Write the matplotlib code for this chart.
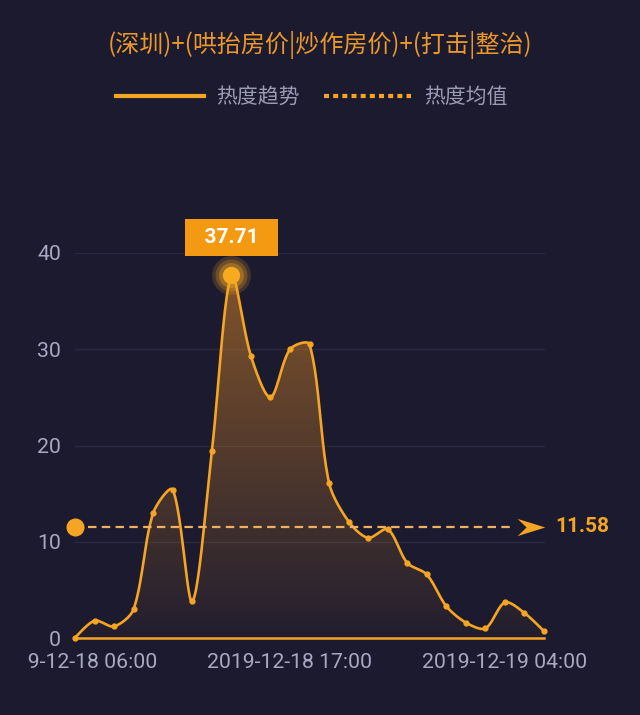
import numpy as np
import pandas as pd
import matplotlib
matplotlib.use("Agg")
import matplotlib.pyplot as plt
from matplotlib.lines import Line2D
from matplotlib.patches import Polygon
from matplotlib.path import Path
from matplotlib.colors import LinearSegmentedColormap
from matplotlib.transforms import Bbox, TransformedBbox

# hourly heat index, 2019-12-18 06:00 .. 2019-12-19 06:00
hours = pd.date_range("2019-12-18 06:00", periods=25, freq="h").strftime("%Y-%m-%d %H:%M").tolist()
heat = [0.0, 1.8, 1.2, 3.0, 13.0, 15.4, 3.8, 19.4, 37.71, 29.3, 25.0, 30.0, 30.5,
        16.1, 12.1, 10.4, 11.3, 7.8, 6.6, 3.3, 1.6, 1.0, 3.7, 2.6, 0.7]
mean_value = 11.58
tick_idx = [0, 11, 22]
yticks = [0, 10, 20, 30, 40]

title = "(深圳)+(哄抬房价|炒作房价)+(打击|整治)"
legend_names = ["热度趋势", "热度均值"]

bg = "#1c1a2f"
orange = "#f5a524"
grid_c = "#2a2940"
tick_c = "#a9a8c2"
legend_c = "#9c9bb6"
cjk = ["Noto Sans CJK SC", "DejaVu Sans"]
num = ["Roboto", "DejaVu Sans"]


def smooth_curve(xs, ys, sx, sy, smooth=0.3, n=24):
    # bezier smoothing through the points, done in pixel-like space
    P = np.column_stack([np.asarray(xs, float) * sx, np.asarray(ys, float) * sy])
    m = len(P)
    cps = []
    for i in range(m):
        if i == 0 or i == m - 1:
            cps.append((P[i], P[i]))
            continue
        prev, cur, nxt = P[i - 1], P[i], P[i + 1]
        v = (nxt - prev) * smooth
        d0 = np.linalg.norm(cur - prev)
        d1 = np.linalg.norm(nxt - cur)
        cps.append((cur - v * d0 / (d0 + d1), cur + v * d1 / (d0 + d1)))
    out = []
    for i in range(m - 1):
        p0, p3 = P[i], P[i + 1]
        c1, c2 = cps[i][1], cps[i + 1][0]
        t = np.linspace(0, 1, n, endpoint=(i == m - 2))[:, None]
        seg = ((1 - t) ** 3) * p0 + 3 * ((1 - t) ** 2) * t * c1 + 3 * (1 - t) * t ** 2 * c2 + t ** 3 * p3
        out.append(seg)
    out = np.vstack(out)
    return out[:, 0] / sx, out[:, 1] / sy


fig = plt.figure(figsize=(6.4, 7.15), dpi=100, facecolor=bg)
px_x = 469 / 24.0
ax = fig.add_axes([68 / 640, 77 / 715, (24.72 * px_x) / 640, 385 / 715])
ax.set_facecolor(bg)
for s in ax.spines.values():
    s.set_visible(False)

x = np.arange(len(heat))
# grid
for yv in yticks[1:]:
    ax.plot([0, 24], [yv, yv], color=grid_c, lw=1, zorder=1)

sx, sy = px_x, 385 / 40.0
cx, cy = smooth_curve(x, heat, sx, sy)

# gradient fill under the curve
poly_xy = np.column_stack([np.r_[cx, cx[-1], cx[0]], np.r_[cy, 0, 0]])
clip = Polygon(poly_xy, closed=True, transform=ax.transData, facecolor="none", edgecolor="none")
ax.add_patch(clip)
cmap = LinearSegmentedColormap.from_list("g", [(0.96, 0.62, 0.15, 0.03), (0.96, 0.58, 0.15, 0.47)])
grad = np.linspace(0, 1, 256).reshape(-1, 1)
im = ax.imshow(grad, cmap=cmap, origin="lower", aspect="auto",
               extent=[0, 24, 0, max(heat)], zorder=2, interpolation="bicubic")
im.set_clip_path(clip)
ax.set_xlim(-0.36, 24.36)
ax.set_ylim(0, 40)

ax.plot([0, 24], [0, 0], color=orange, lw=1.8, zorder=3, clip_on=False)
ax.plot(cx, cy, color=orange, lw=1.9, zorder=4, clip_on=False, solid_capstyle="round")
ax.plot(x, heat, "o", color=orange, ms=3.5, zorder=5, clip_on=False)

# peak marker + glow + label
ip = int(np.argmax(heat))
for ms, a in [(28, 0.18), (23, 0.25), (18, 0.35)]:
    ax.plot(ip, heat[ip], "o", color=orange, ms=ms, alpha=a, mec="none", zorder=6, clip_on=False)
ax.plot(ip, heat[ip], "o", color="#f7aa1e", ms=12.5, mec="none", zorder=7, clip_on=False)
ax.annotate(f"  {heat[ip]:.2f}  ", (ip, heat[ip]), xytext=(0, 27), textcoords="offset points",
            ha="center", va="center", color="white", fontsize=15, fontweight="bold",
            family=num, zorder=8, annotation_clip=False,
            bbox=dict(boxstyle="square,pad=0.42", fc="#f39a12", ec="none"))

# mean line
ax.plot([0.65, 22.4], [mean_value, mean_value], color="#f0b060", lw=1.6,
        dashes=(3.8, 2.4), zorder=6, clip_on=False)
ax.plot(0, mean_value, "o", color=orange, ms=13, mec="none", zorder=7, clip_on=False)
arrow = Path([(1, 0), (-1, 0.62), (-0.35, 0), (-1, -0.62), (1, 0)],
             [Path.MOVETO, Path.LINETO, Path.LINETO, Path.LINETO, Path.CLOSEPOLY])
ax.plot(23.34, mean_value, marker=arrow, color=orange, ms=20, mec="none", zorder=7, clip_on=False)
ax.text(24.55, mean_value, f"{mean_value:.2f}", color=orange, fontsize=15, fontweight="bold",
        family=num, ha="left", va="center", clip_on=False)

ax.set_yticks(yticks)
ax.set_yticklabels([str(v) for v in yticks], family=num, fontsize=15.3, color=tick_c)
ax.set_xticks(tick_idx)
ax.set_xticklabels([hours[i] for i in tick_idx], family=num, fontsize=15.3, color=tick_c)
ax.tick_params(axis="y", length=0, pad=5)
ax.tick_params(axis="x", length=0, pad=11)

# the chart container cuts the first date label on its left side
first = ax.get_xticklabels()[0]
first.set_clip_box(TransformedBbox(Bbox([[28 / 640, 0], [1, 1]]), fig.transFigure))
first.set_clip_on(True)

fig.text(0.5, 1 - 45 / 715, title, ha="center", va="center", color="#eb982a",
         fontsize=17.3, family=cjk)

handles = [Line2D([], [], color=orange, lw=3),
           Line2D([], [], color=orange, lw=3, linestyle=(0, (1.2, 1.0)))]
leg = fig.legend(handles, legend_names, loc="center", bbox_to_anchor=(312 / 640, 1 - 97 / 715),
                 ncol=2, frameon=False, handlelength=4.2, handletextpad=0.62, columnspacing=1.15,
                 prop={"family": cjk, "size": 15})
for t in leg.get_texts():
    t.set_color(legend_c)

fig.savefig("out.png", dpi=100, facecolor=bg)
